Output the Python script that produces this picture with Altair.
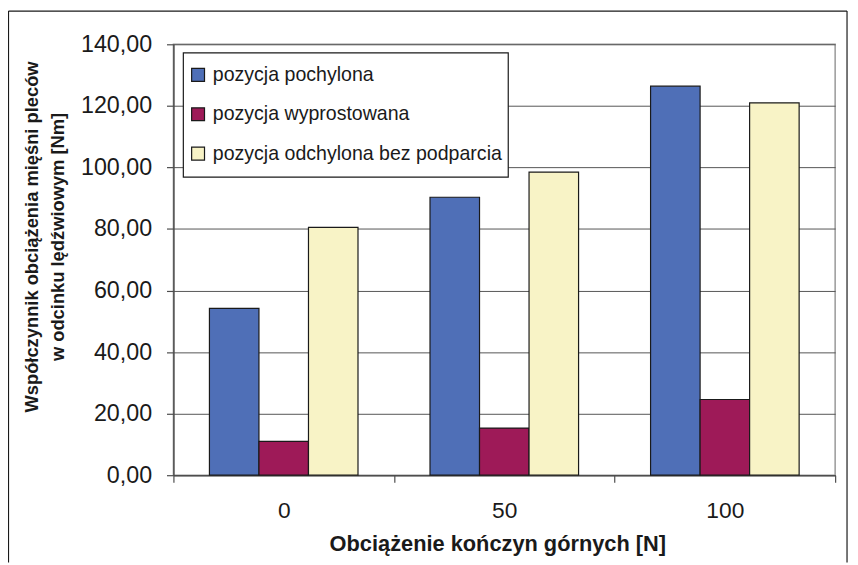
import altair as alt
import pandas as pd

categories = ["0", "50", "100"]
series = ["pozycja pochylona", "pozycja wyprostowana", "pozycja odchylona bez podparcia"]
pochylona = [54.2, 90.3, 126.4]
wyprostowana = [11.0, 15.3, 24.6]
odchylona = [80.5, 98.5, 121.0]
colors = ["#4F6FB7", "#9E1A58", "#F8F3C6"]
y_ticks = [0, 20, 40, 60, 80, 100, 120, 140]

rows = []
for s, vals in zip(series, [pochylona, wyprostowana, odchylona]):
    for c, v in zip(categories, vals):
        rows.append({"obc": c, "seria": s, "wartosc": v})
df = pd.DataFrame(rows)

FONT = "Liberation Sans"

bars = alt.Chart(df).mark_bar(stroke="#1a1a1a", strokeWidth=1.2).encode(
    x=alt.X(
        "obc:N", sort=categories,
        scale=alt.Scale(paddingInner=0, paddingOuter=0),
        axis=alt.Axis(
            title="Obciążenie kończyn górnych [N]", labelAngle=0, tickBand="extent",
            tickSize=7, tickColor="#4d4d4d", tickWidth=1.2,
            domainColor="#4d4d4d", domainWidth=1.5,
            labelFont=FONT, labelFontSize=23, labelColor="#1a1a1a", labelPadding=18,
            titleFont=FONT, titleFontSize=22, titleFontWeight="bold", titleColor="#1a1a1a",
            titleBaseline="alphabetic", titleY=76, titleX=327, titleAlign="center",
            grid=False,
        ),
    ),
    xOffset=alt.XOffset("seria:N", sort=series,
                        scale=alt.Scale(paddingInner=0, paddingOuter=0.727)),
    y=alt.Y(
        "wartosc:Q",
        scale=alt.Scale(domain=[0, 140], nice=False),
        axis=alt.Axis(
            values=y_ticks,
            labelExpr="replace(format(datum.value, '.2f'), '.', ',')",
            tickSize=7, tickColor="#4d4d4d", tickWidth=1.2,
            domainColor="#4d4d4d", domainWidth=1.5,
            labelFont=FONT, labelFontSize=23.5, labelColor="#1a1a1a", labelPadding=15,
            grid=True, gridColor="#555555", gridWidth=1,
            title=["Współczynnik obciążenia mięśni pleców", "w odcinku lędźwiowym [Nm]"],
            titleFont=FONT, titleFontSize=18.5, titleFontWeight="bold", titleColor="#1a1a1a",
            titleAngle=270, titleBaseline="alphabetic", titleAlign="center",
            titleX=-137, titleY=194, titleLineHeight=26,
        ),
    ),
    color=alt.Color(
        "seria:N", sort=series,
        scale=alt.Scale(domain=series, range=colors),
        legend=alt.Legend(
            title=None, orient="none", legendX=15, legendY=21,
            symbolType="square", symbolSize=169, symbolStrokeColor="#1a1a1a",
            symbolStrokeWidth=1.2, labelFont=FONT, labelFontSize=19.75,
            labelColor="#1a1a1a", labelOffset=5, rowPadding=18.75, padding=0,
            labelLimit=400,
        ),
    ),
)

one = pd.DataFrame({"k": [0]})

legend_box = alt.Chart(one).mark_rect(fill="white", stroke="#1a1a1a", strokeWidth=1.2).encode(
    x=alt.value(10), x2=alt.value(338), y=alt.value(8.7), y2=alt.value(134)
)

frame_left = alt.Chart(one).mark_rule(color="#1a1a1a", strokeWidth=1.2).encode(
    x=alt.value(-166.5), y=alt.value(-33.5), y2=alt.value(523)
)
frame_top = alt.Chart(one).mark_rule(color="#1a1a1a", strokeWidth=1.2).encode(
    x=alt.value(-166.5), x2=alt.value(680), y=alt.value(-33.5)
)
frame_right = alt.Chart(one).mark_rule(color="#1a1a1a", strokeWidth=1.2).encode(
    x=alt.value(680), y=alt.value(-33.5), y2=alt.value(523)
)

chart = alt.layer(legend_box, bars, frame_left, frame_top, frame_right).properties(
    width=668, height=435,
    autosize=alt.AutoSizeParams(type="none"),
    padding={"left": 167, "top": 34, "right": 15, "bottom": 88},
    background="white",
).configure_view(stroke="#999999", strokeWidth=1.5)

chart.save("out.html", embed_options={"renderer": "svg", "actions": False})
